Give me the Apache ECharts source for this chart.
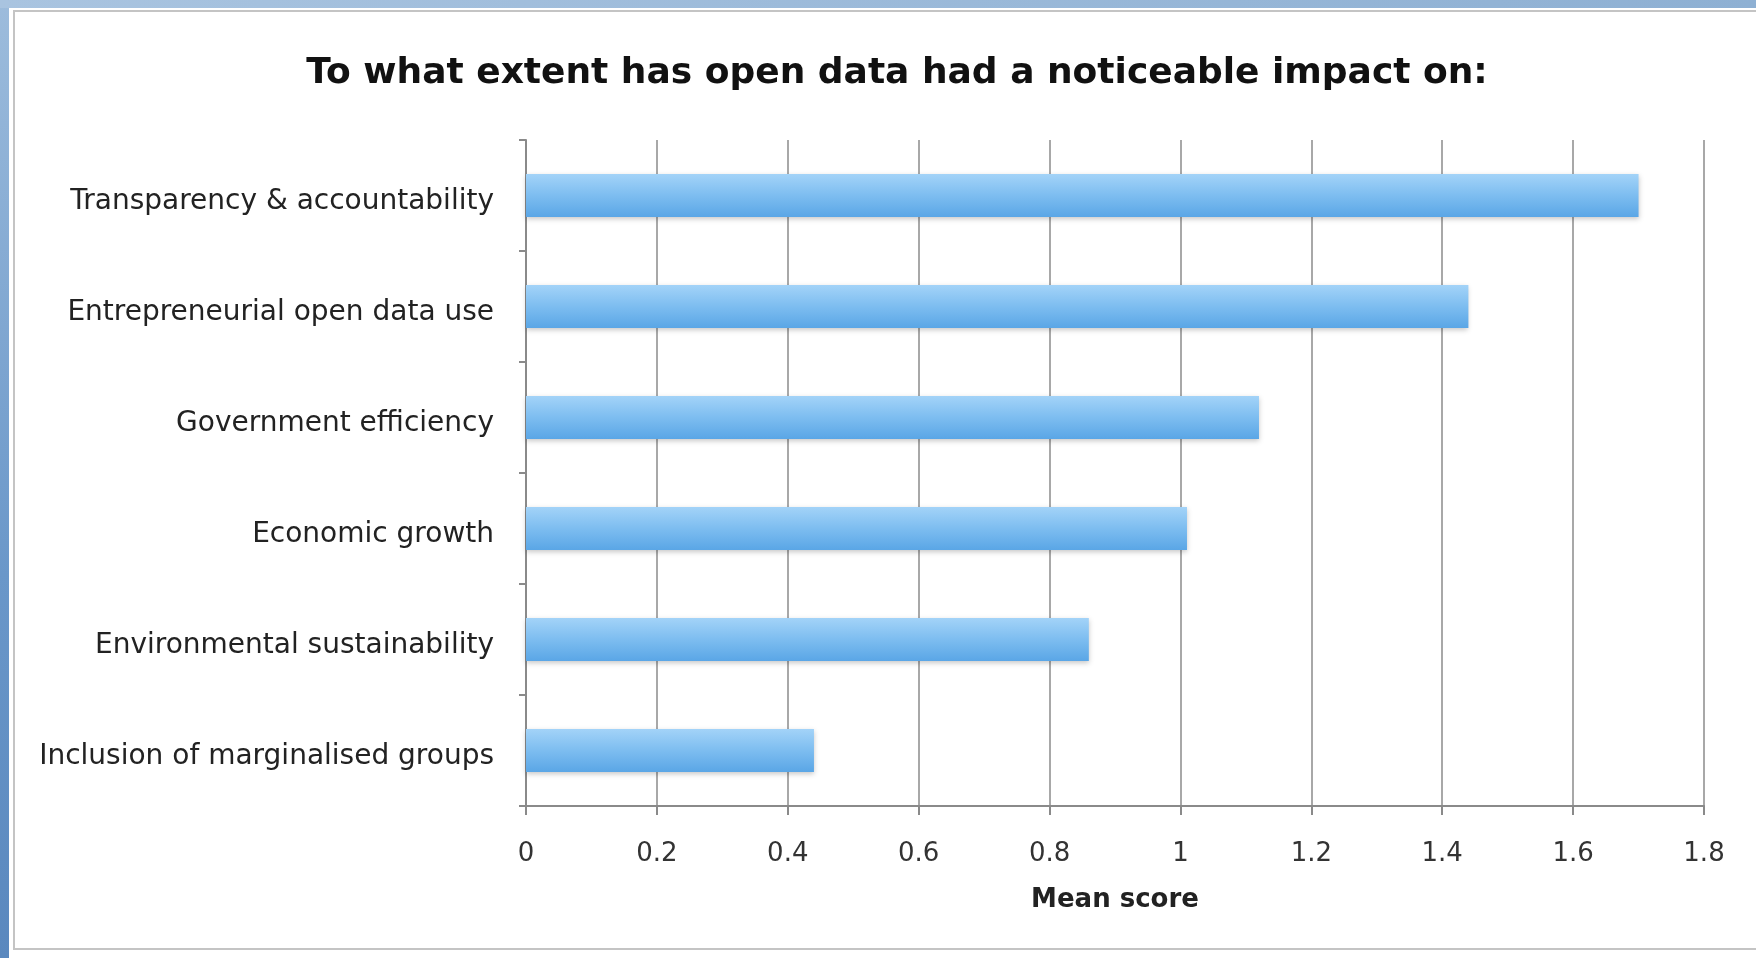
<!DOCTYPE html>
<html>
<head>
<meta charset="utf-8">
<script src="https://cdn.jsdelivr.net/npm/echarts@6/dist/echarts.min.js"></script>
<style>
html,body{margin:0;padding:0;width:1756px;height:958px;overflow:hidden;background:#fff;}
#leftStrip{position:absolute;left:0;top:0;width:9px;height:958px;background:linear-gradient(#9dbcdc,#6a97c9 60%,#5a88be);}
#topStrip{position:absolute;left:0;top:0;width:1756px;height:8px;background:linear-gradient(90deg,#a9c4e0,#8eb0d3);}
#panel{position:absolute;left:13px;top:10px;width:1750px;height:936px;border:2px solid #c4c4c4;background:#fff;}
#chart{position:absolute;left:0;top:0;width:1756px;height:958px;}
</style>
</head>
<body>
<div id="leftStrip"></div>
<div id="topStrip"></div>
<div id="panel"></div>
<div id="chart"></div>
<script>
const titleText = 'To what extent has open data had a noticeable impact on:';
const categories = [
  'Transparency & accountability',
  'Entrepreneurial open data use',
  'Government efficiency',
  'Economic growth',
  'Environmental sustainability',
  'Inclusion of marginalised groups'
];
const meanScores = [1.70, 1.44, 1.12, 1.01, 0.86, 0.44];
const xAxisName = 'Mean score';

const chart = echarts.init(document.getElementById('chart'), null, {renderer: 'canvas'});
const fontFamily = '"DejaVu Sans", sans-serif';
chart.setOption({
  backgroundColor: 'transparent',
  animation: false,
  title: {
    text: titleText,
    left: 892,
    textAlign: 'center',
    top: 51,
    textStyle: {fontFamily: fontFamily, fontWeight: 'bold', fontSize: 36, color: '#111'}
  },
  grid: {left: 526, right: 52, top: 140, bottom: 152, containLabel: false},
  xAxis: {
    type: 'value',
    min: 0, max: 1.8, interval: 0.2,
    name: xAxisName,
    nameLocation: 'middle',
    nameGap: 81,
    nameTextStyle: {fontFamily: fontFamily, fontWeight: 'bold', fontSize: 26, color: '#222'},
    axisLine: {show: true, lineStyle: {color: '#8a8a8a', width: 2}},
    axisTick: {show: true, length: 9, lineStyle: {color: '#8a8a8a', width: 2}},
    axisLabel: {fontFamily: fontFamily, fontSize: 26, color: '#333', margin: 35},
    splitLine: {show: true, lineStyle: {color: '#a8a8a8', width: 2}}
  },
  yAxis: {
    type: 'category',
    data: categories,
    inverse: true,
    axisLine: {show: true, lineStyle: {color: '#8a8a8a', width: 2}},
    axisTick: {show: true, length: 7, alignWithLabel: false, lineStyle: {color: '#8a8a8a', width: 2}},
    axisLabel: {
      margin: 32,
      formatter: function (v) { return '{c|' + v + '}'; },
      rich: {c: {fontFamily: fontFamily, fontSize: 28, color: '#222', padding: [12, 0, 0, 0]}}
    },
    splitLine: {show: false}
  },
  series: [{
    type: 'bar',
    data: meanScores,
    barWidth: 43,
    itemStyle: {
      color: new echarts.graphic.LinearGradient(0, 0, 0, 1, [
        {offset: 0, color: '#a3d3f8'},
        {offset: 0.5, color: '#7dbdf0'},
        {offset: 1, color: '#5aa6e6'}
      ]),
      shadowBlur: 5,
      shadowColor: 'rgba(0,0,0,0.22)',
      shadowOffsetY: 2
    }
  }]
});
</script>
</body>
</html>
